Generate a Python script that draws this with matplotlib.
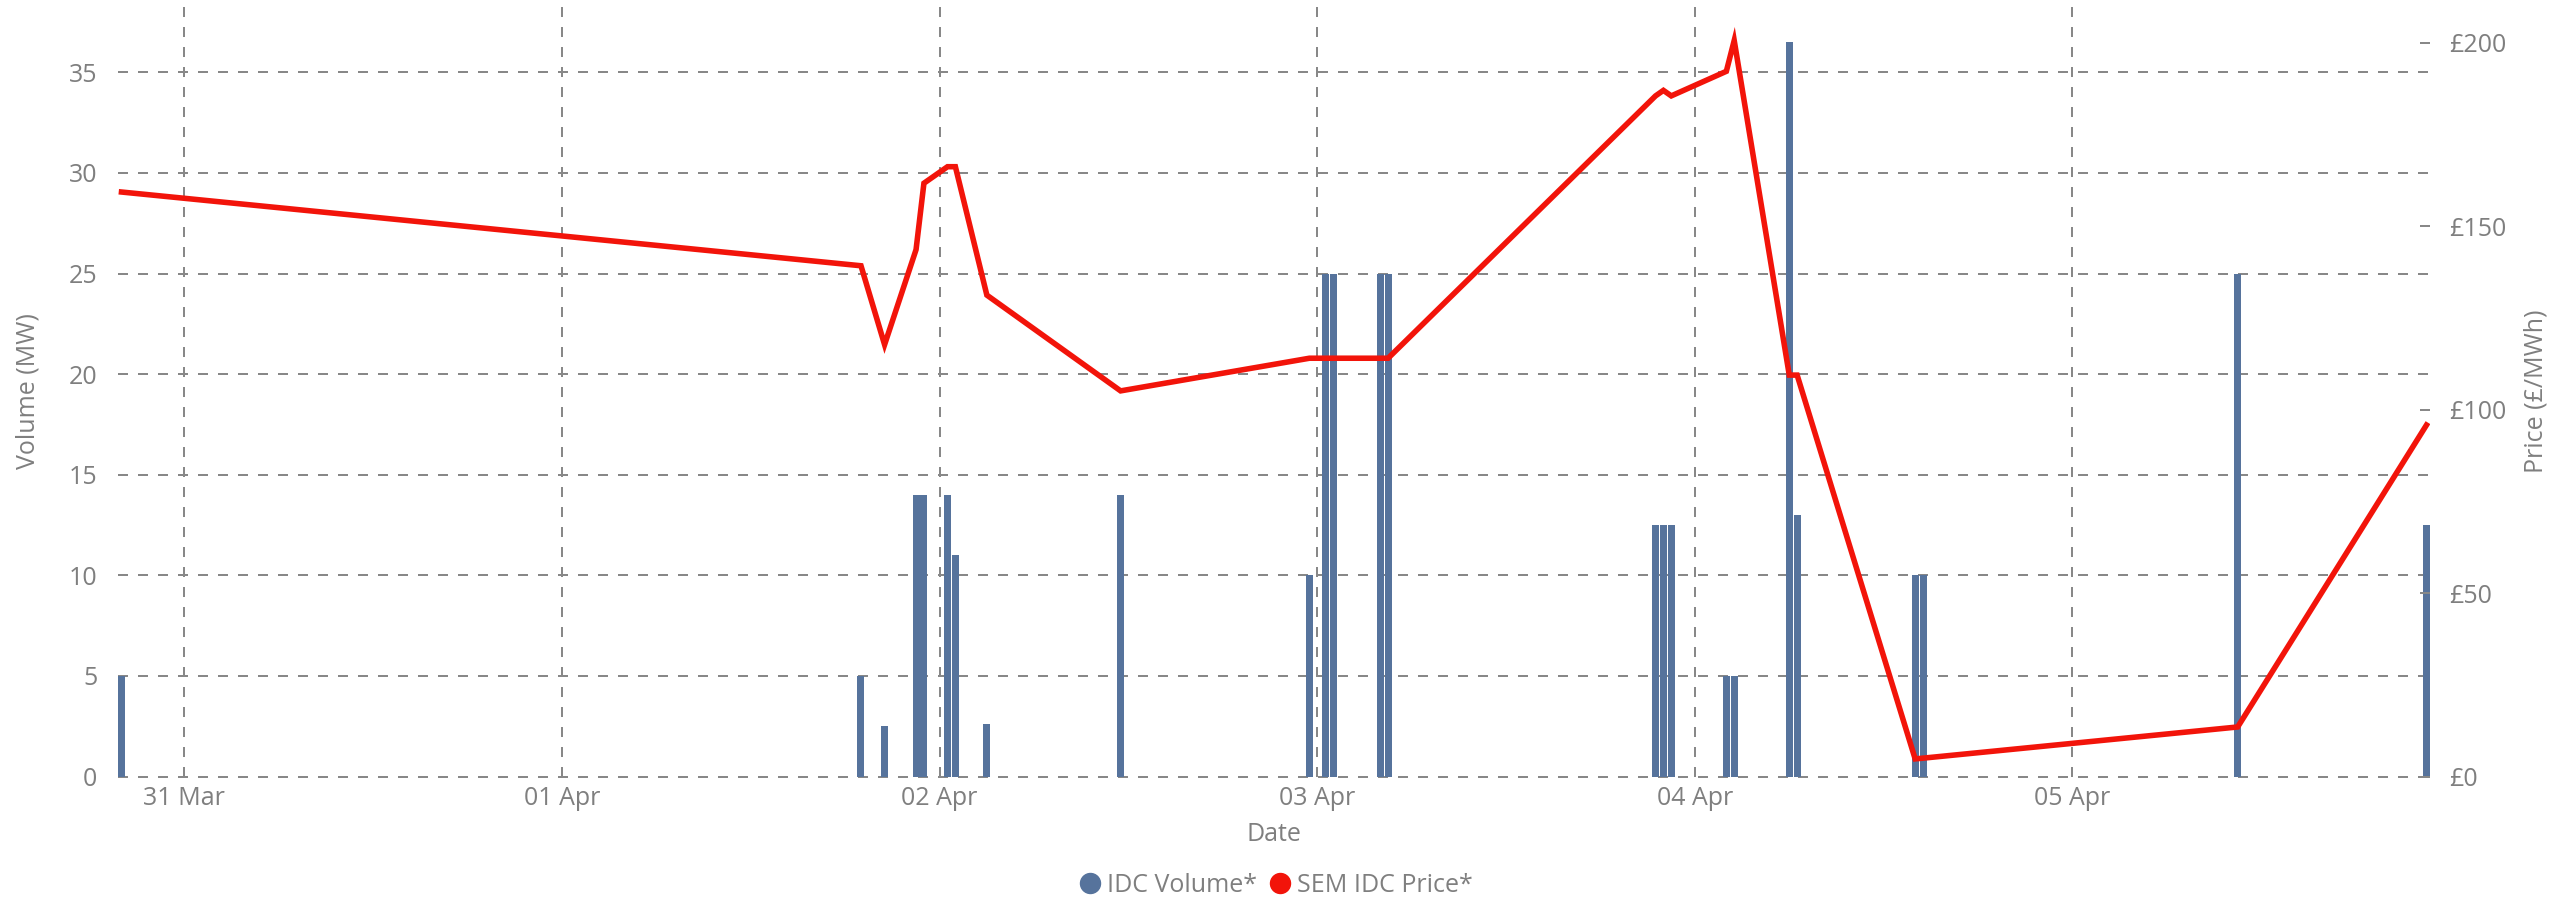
#IDC volume bars with SEM IDC price line on a second axis

import matplotlib
matplotlib.use('Agg')
import matplotlib.pyplot as plt
import matplotlib.dates as mdates
from matplotlib.lines import Line2D
import pandas as pd

plt.rcParams['font.family'] = ['Open Sans', 'DejaVu Sans']

#half hour trading periods that had IDC trades
times = ['2024-03-30 20:00', '2024-04-01 19:00', '2024-04-01 20:30', '2024-04-01 22:30',
		'2024-04-01 23:00', '2024-04-02 00:30', '2024-04-02 01:00', '2024-04-02 03:00',
		'2024-04-02 11:30', '2024-04-02 23:30', '2024-04-03 00:30', '2024-04-03 01:00',
		'2024-04-03 04:00', '2024-04-03 04:30', '2024-04-03 21:30', '2024-04-03 22:00',
		'2024-04-03 22:30', '2024-04-04 02:00', '2024-04-04 02:30', '2024-04-04 06:00',
		'2024-04-04 06:30', '2024-04-04 14:00', '2024-04-04 14:30', '2024-04-05 10:30',
		'2024-04-05 22:30']
volume_mw = [5, 5, 2.5, 14, 14, 14, 11, 2.6, 14, 10, 25, 25, 25, 25, 12.5, 12.5,
			12.5, 5, 5, 36.5, 13, 10, 10, 25, 12.5]
price_gbp = [159.3, 139.2, 117.7, 143.6, 161.7, 166.2, 166.2, 131.2, 105.1, 114, 114,
			114, 114, 114, 185.5, 187.0, 185.5, 192.2, 200.6, 109.4, 109.4, 4.8, 5.0,
			13.5, 95.8]
price_ticks = [0, 50, 100, 150, 200]

bar_color = '#56739c'
line_color = '#f2140a'
grid_color = '#888888'
text_color = '#7f7f7f'
font_size = 18

W, H, dpi = 2565, 900, 100

x = pd.to_datetime(times)
xnum = mdates.date2num(x)
#bar is a bit narrower than a half hour slot
bar_w = 0.89 / 48

fig, ax = plt.subplots(figsize=(W / dpi, H / dpi), dpi=dpi)
fig.subplots_adjust(left=118 / W, right=2430 / W, bottom=1 - 776.5 / H, top=1 - 6 / H)

ax.bar(xnum, volume_mw, width=bar_w, color=bar_color, zorder=2)
ax.set_xlim(xnum[0] - bar_w / 2, xnum[-1] + bar_w / 2)
ax.set_ylim(0, 38.3)
ax.set_yticks(range(0, 36, 5))
ax.xaxis.set_major_locator(mdates.DayLocator())
ax.xaxis.set_major_formatter(mdates.DateFormatter('%d %b'))
ax.grid(True, color=grid_color, linewidth=1.44, linestyle=(0, (5, 5)), zorder=0)
ax.set_axisbelow(True)
#keep the zero gridline whole, it sits on the axes edge
for gl in ax.get_ygridlines():
	gl.set_clip_on(False)
ax.tick_params(axis='both', length=0, labelsize=font_size, labelcolor=text_color)
ax.tick_params(axis='y', pad=15)
ax.tick_params(axis='x', pad=7)
ax.set_ylabel('Volume (MW)', fontsize=font_size, color=text_color, labelpad=20)
ax.set_xlabel('Date', fontsize=font_size, color=text_color, labelpad=8)

#price on the right hand axis
ax2 = ax.twinx()
ax2.plot(xnum, price_gbp, color=line_color, linewidth=4, solid_joinstyle='miter', zorder=3)
ax2.set_ylim(0, 210)
ax2.set_yticks(price_ticks)
ax2.set_yticklabels(['£{}'.format(p) for p in price_ticks])
ax2.tick_params(axis='y', direction='in', length=7.2, width=1.44, color=grid_color,
				pad=14, labelsize=font_size, labelcolor=text_color)
ax2.set_ylabel('Price (£/MWh)', fontsize=font_size, color=text_color, labelpad=12)

for a in (ax, ax2):
	for s in a.spines.values():
		s.set_visible(False)

handles = [Line2D([], [], linestyle='none', marker='o', markersize=14.4, color=bar_color),
			Line2D([], [], linestyle='none', marker='o', markersize=14.4, color=line_color)]
fig.legend(handles, ['IDC Volume*', 'SEM IDC Price*'], loc='center',
			bbox_to_anchor=(1276.5 / W, 1 - 885.7 / H), ncol=2, frameon=False,
			fontsize=font_size, labelcolor=text_color, handlelength=0.8,
			handletextpad=0.28, columnspacing=0.52, borderpad=0, borderaxespad=0)

plt.savefig('out.png', dpi=dpi)
